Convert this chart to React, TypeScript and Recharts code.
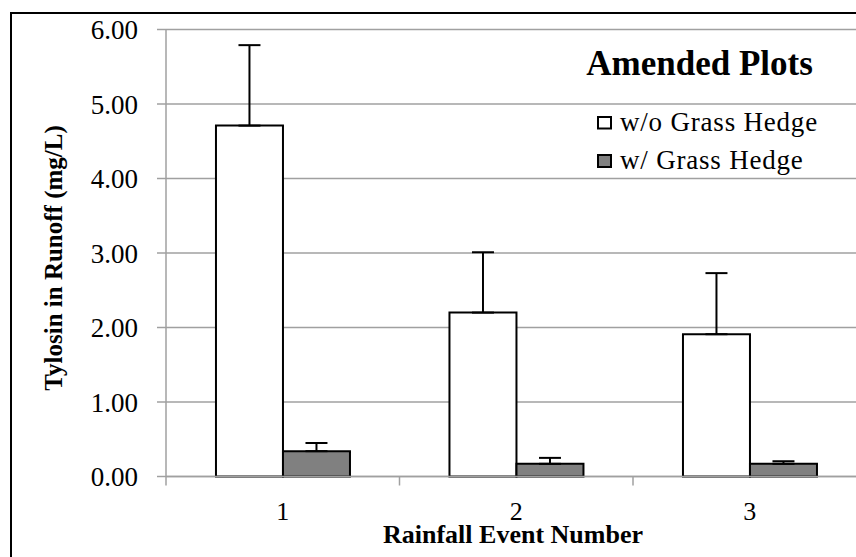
import React from 'react';
import { BarChart, Bar, XAxis, YAxis, CartesianGrid, ErrorBar, Legend } from 'recharts';

const categories = ['1', '2', '3'];
const withoutHedge = [4.71, 2.2, 1.91];
const withoutHedgeErr = [1.08, 0.81, 0.82];
const withHedge = [0.34, 0.17, 0.17];
const withHedgeErr = [0.11, 0.08, 0.035];
const yTicks = [0, 1, 2, 3, 4, 5, 6];
const seriesNames = ['w/o Grass Hedge', 'w/ Grass Hedge'];
const chartTitle = 'Amended Plots';
const xTitle = 'Rainfall Event Number';
const yTitle = 'Tylosin in Runoff (mg/L)';

const data = categories.map((c, i) => ({
  event: c,
  without: withoutHedge[i],
  withoutErr: [0, withoutHedgeErr[i]],
  withH: withHedge[i],
  withErr: [0, withHedgeErr[i]],
}));

const FONT = '"Liberation Serif", "Times New Roman", serif';
const GRID = '#a0a0a0';

const XTick = (props: any) => {
  const { x, y, payload } = props;
  const off = payload && typeof payload.offset === 'number' ? payload.offset : 0;
  return (
    <g>
      <line x1={x - off} x2={x - off} y1={y} y2={y + 9} stroke={GRID} strokeWidth={1.5} />
      <text x={x} y={y + 43} textAnchor="middle" fontFamily={FONT} fontSize={26} fill="#000">
        {payload.value}
      </text>
    </g>
  );
};

const LegendContent = () => (
  <svg width={856} height={200} style={{ position: 'absolute', left: 0, top: 0, overflow: 'visible' }}>
    <text x={699.5} y={75} textAnchor="middle" fontFamily={FONT} fontSize={35} fontWeight="bold" fill="#000">
      {chartTitle}
    </text>
    <rect x={598} y={117} width={13} height={11.5} fill="#ffffff" stroke="#000" strokeWidth={2} />
    <text x={620} y={130.5} fontFamily={FONT} fontSize={27} letterSpacing={0.8} fill="#000">{seriesNames[0]}</text>
    <rect x={598} y={155} width={13} height={12} fill="#808080" stroke="#000" strokeWidth={2} />
    <text x={620} y={169} fontFamily={FONT} fontSize={27} letterSpacing={0.8} fill="#000">{seriesNames[1]}</text>
  </svg>
);

export default function App() {
  return (
    <div
      style={{
        position: 'fixed',
        left: 0,
        top: 0,
        width: 856,
        height: 557,
        overflow: 'hidden',
        background: '#fff',
      }}
    >
      <div
        style={{
          position: 'absolute',
          left: 10,
          top: 12,
          width: 1000,
          height: 700,
          border: '2px solid #000',
          boxSizing: 'border-box',
        }}
      />
      <div style={{ position: 'absolute', left: 0, top: 0 }}>
        <BarChart
          width={900}
          height={557}
          data={data}
          margin={{ top: 29.5, right: 33.5, bottom: 79.5, left: 106 }}
          barCategoryGap="21.4%"
          barGap={0}
        >
          <CartesianGrid horizontal vertical={false} stroke={GRID} strokeWidth={1.5} />
          <XAxis
            dataKey="event"
            axisLine={{ stroke: GRID, strokeWidth: 1.5 }}
            tickLine={false}
            tickSize={0}
            tickMargin={0}
            tick={<XTick />}
            interval={0}
            height={1}
          />
          <YAxis
            domain={[0, 6]}
            ticks={yTicks}
            width={60}
            interval={0}
            tickFormatter={(v: number) => v.toFixed(2)}
            axisLine={{ stroke: GRID, strokeWidth: 1.5 }}
            tickLine={{ stroke: GRID, strokeWidth: 1.5 }}
            tickSize={9}
            tickMargin={19}
            tick={{ fill: '#000', fontFamily: FONT, fontSize: 27 }}
          />
          <Legend
            layout="vertical"
            align="center"
            verticalAlign="middle"
            content={<LegendContent />}
            wrapperStyle={{ position: 'absolute', left: 0, top: 0, width: 856, height: 200 }}
          />
          <Bar dataKey="without" name={seriesNames[0]} fill="#ffffff" stroke="#000" strokeWidth={2} isAnimationActive={false}>
            <ErrorBar dataKey="withoutErr" direction="y" width={11} stroke="#000" strokeWidth={2} />
          </Bar>
          <Bar dataKey="withH" name={seriesNames[1]} fill="#808080" stroke="#000" strokeWidth={2} isAnimationActive={false}>
            <ErrorBar dataKey="withErr" direction="y" width={11} stroke="#000" strokeWidth={2} />
          </Bar>
        </BarChart>
      </div>
      <svg width={856} height={557} style={{ position: 'absolute', left: 0, top: 0, pointerEvents: 'none' }}>
        <text x={513} y={543} textAnchor="middle" fontFamily={FONT} fontSize={26} fontWeight="bold" fill="#000">
          {xTitle}
        </text>
        <text
          x={0}
          y={0}
          transform="translate(62,258) rotate(-90)"
          textAnchor="middle"
          fontFamily={FONT}
          fontSize={25}
          fontWeight="bold"
          fill="#000"
        >
          {yTitle}
        </text>
      </svg>
    </div>
  );
}
